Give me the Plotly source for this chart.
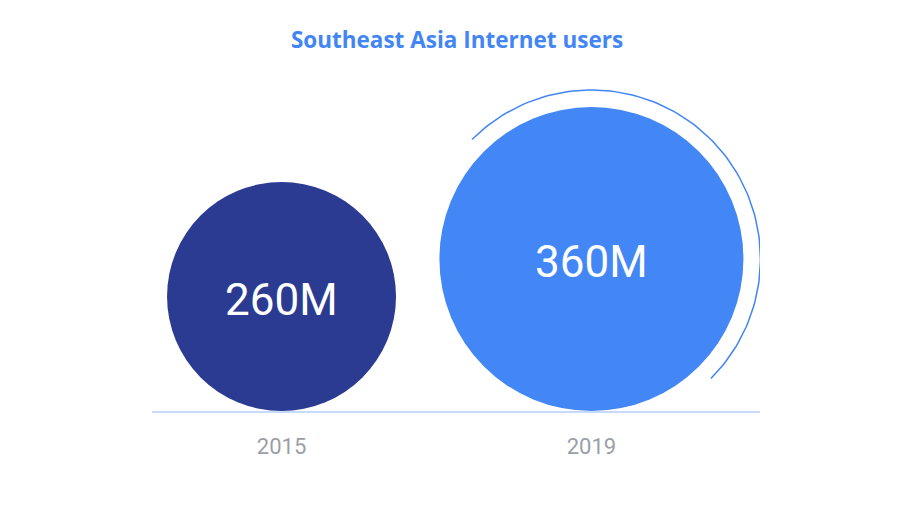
import numpy as np
import plotly.graph_objects as go

# data
years = ['2015', '2019']
users_m = [260, 360]
labels = ['260M', '360M']
colors = ['#2C3B92', '#4287F5']

# the page body has an 8px margin, so the figure is a bit smaller than the window
W, H = 906, 506
MARGIN = dict(l=144, r=154, t=72, b=103)
X_RANGE = [-0.418, 1.544]
plot_w = W - MARGIN['l'] - MARGIN['r']
plot_h = H - MARGIN['t'] - MARGIN['b']
px_per_x = plot_w / (X_RANGE[1] - X_RANGE[0])


def radius(v):
    # circle radius (px) for a value in millions
    return 17 + 0.375 * v


radii = [radius(v) for v in users_m]
xs = list(range(len(years)))

fig = go.Figure()

fig.add_trace(go.Scatter(
    x=xs, y=radii,
    mode='markers',
    marker=dict(size=[2 * r for r in radii], sizemode='diameter', sizeref=1,
                color=colors, line=dict(width=0), opacity=1),
    cliponaxis=False,
    hoverinfo='skip',
))

# value labels in the middle of each circle
for x, r, lab in zip(xs, radii, labels):
    fig.add_annotation(x=x, y=r, text=lab, showarrow=False, yshift=-3,
                       font=dict(family='Roboto', size=44, color='white'))

# growth arc around the last circle
last = len(years) - 1
R_arc = radii[last] + 17
t = np.radians(np.linspace(135, -45, 120))
fig.add_trace(go.Scatter(
    x=last + R_arc * np.cos(t) / px_per_x,
    y=radii[last] + R_arc * np.sin(t),
    mode='lines',
    line=dict(color='#4285F4', width=1.5),
    cliponaxis=False,
    hoverinfo='skip',
))

fig.update_layout(
    width=W, height=H,
    margin=MARGIN,
    paper_bgcolor='white',
    plot_bgcolor='white',
    showlegend=False,
    title=dict(text='Southeast Asia Internet users', x=449 / W, xref='container',
               y=1 - 32 / H, yref='container', xanchor='center', yanchor='middle',
               font=dict(family='Open Sans', size=22.5, color='#4285F4', weight='bold')),
)
fig.update_xaxes(range=X_RANGE, tickvals=xs, ticktext=years,
                 showgrid=False, zeroline=False,
                 showline=True, linecolor='#C6DAFC', linewidth=2,
                 ticks='outside', ticklen=15, tickcolor='rgba(0,0,0,0)',
                 tickfont=dict(family='Roboto', size=22, color='#9AA0A6'))
fig.update_yaxes(range=[0, plot_h], visible=False, showgrid=False, zeroline=False)

fig.write_html("out.html")
